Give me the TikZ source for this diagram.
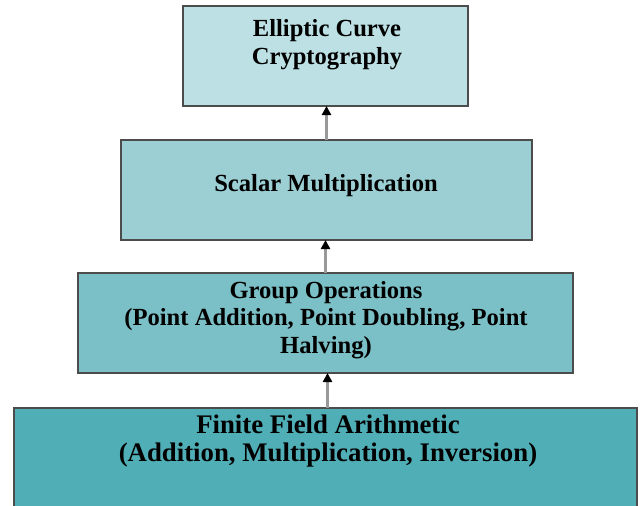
\documentclass[tikz,border=0pt]{standalone}
\usepackage{fontspec}
\setmainfont{Liberation Serif}
\usetikzlibrary{arrows.meta}

\definecolor{layerA}{RGB}{188,224,228}
\definecolor{layerB}{RGB}{155,207,212}
\definecolor{layerC}{RGB}{122,192,198}
\definecolor{layerD}{RGB}{80,174,182}

\begin{document}
\begin{tikzpicture}[x=0.5pt, y=-0.5pt,
  layer/.style={draw=black!70, line width=0.6pt, inner sep=0pt, outer sep=0pt},
  caption/.style={font=\fontsize{12.3}{13.75}\selectfont\bfseries, align=center, inner sep=0pt},
  up/.style={draw=black!40, line width=1.2pt, -{Triangle[length=4.5pt, width=4.5pt, color=black]}}]
\useasboundingbox (0,0) rectangle (642,505);
\clip (0,0) rectangle (642,505);

% the four layers, top to bottom
\node[layer, fill=layerA, minimum width=142.5pt, minimum height=50pt] (ecc) at (325.5,56) {};
\node[layer, fill=layerB, minimum width=205.5pt, minimum height=50pt] (smul) at (326.5,190) {};
\node[layer, fill=layerC, minimum width=247.5pt, minimum height=50pt] (grp) at (325.5,323) {};
\node[layer, fill=layerD, minimum width=311.5pt, minimum height=60pt] (ffa) at (325.5,468) {};

% each layer builds on the one below
\draw[up] (smul.north) -- (smul.north |- ecc.south);
\draw[up] (grp.north) -- (grp.north |- smul.south);
\draw[up] (ffa.north) ++(2,0) coordinate (ffa-top) -- (ffa-top |- grp.south);

\node[caption] (ecc-txt) at (327,44.5) {Elliptic Curve\\Cryptography};
\node[caption] (smul-txt) at (326,186) {Scalar Multiplication};
\node[caption] (grp-txt) at (326,320) {Group Operations\\(Point Addition, Point Doubling, Point\\Halving)};
\node[caption, font=\fontsize{13.4}{14}\selectfont\bfseries] (ffa-txt) at (328,441)
  {Finite Field Arithmetic\\(Addition, Multiplication, Inversion)};
\end{tikzpicture}
\end{document}
